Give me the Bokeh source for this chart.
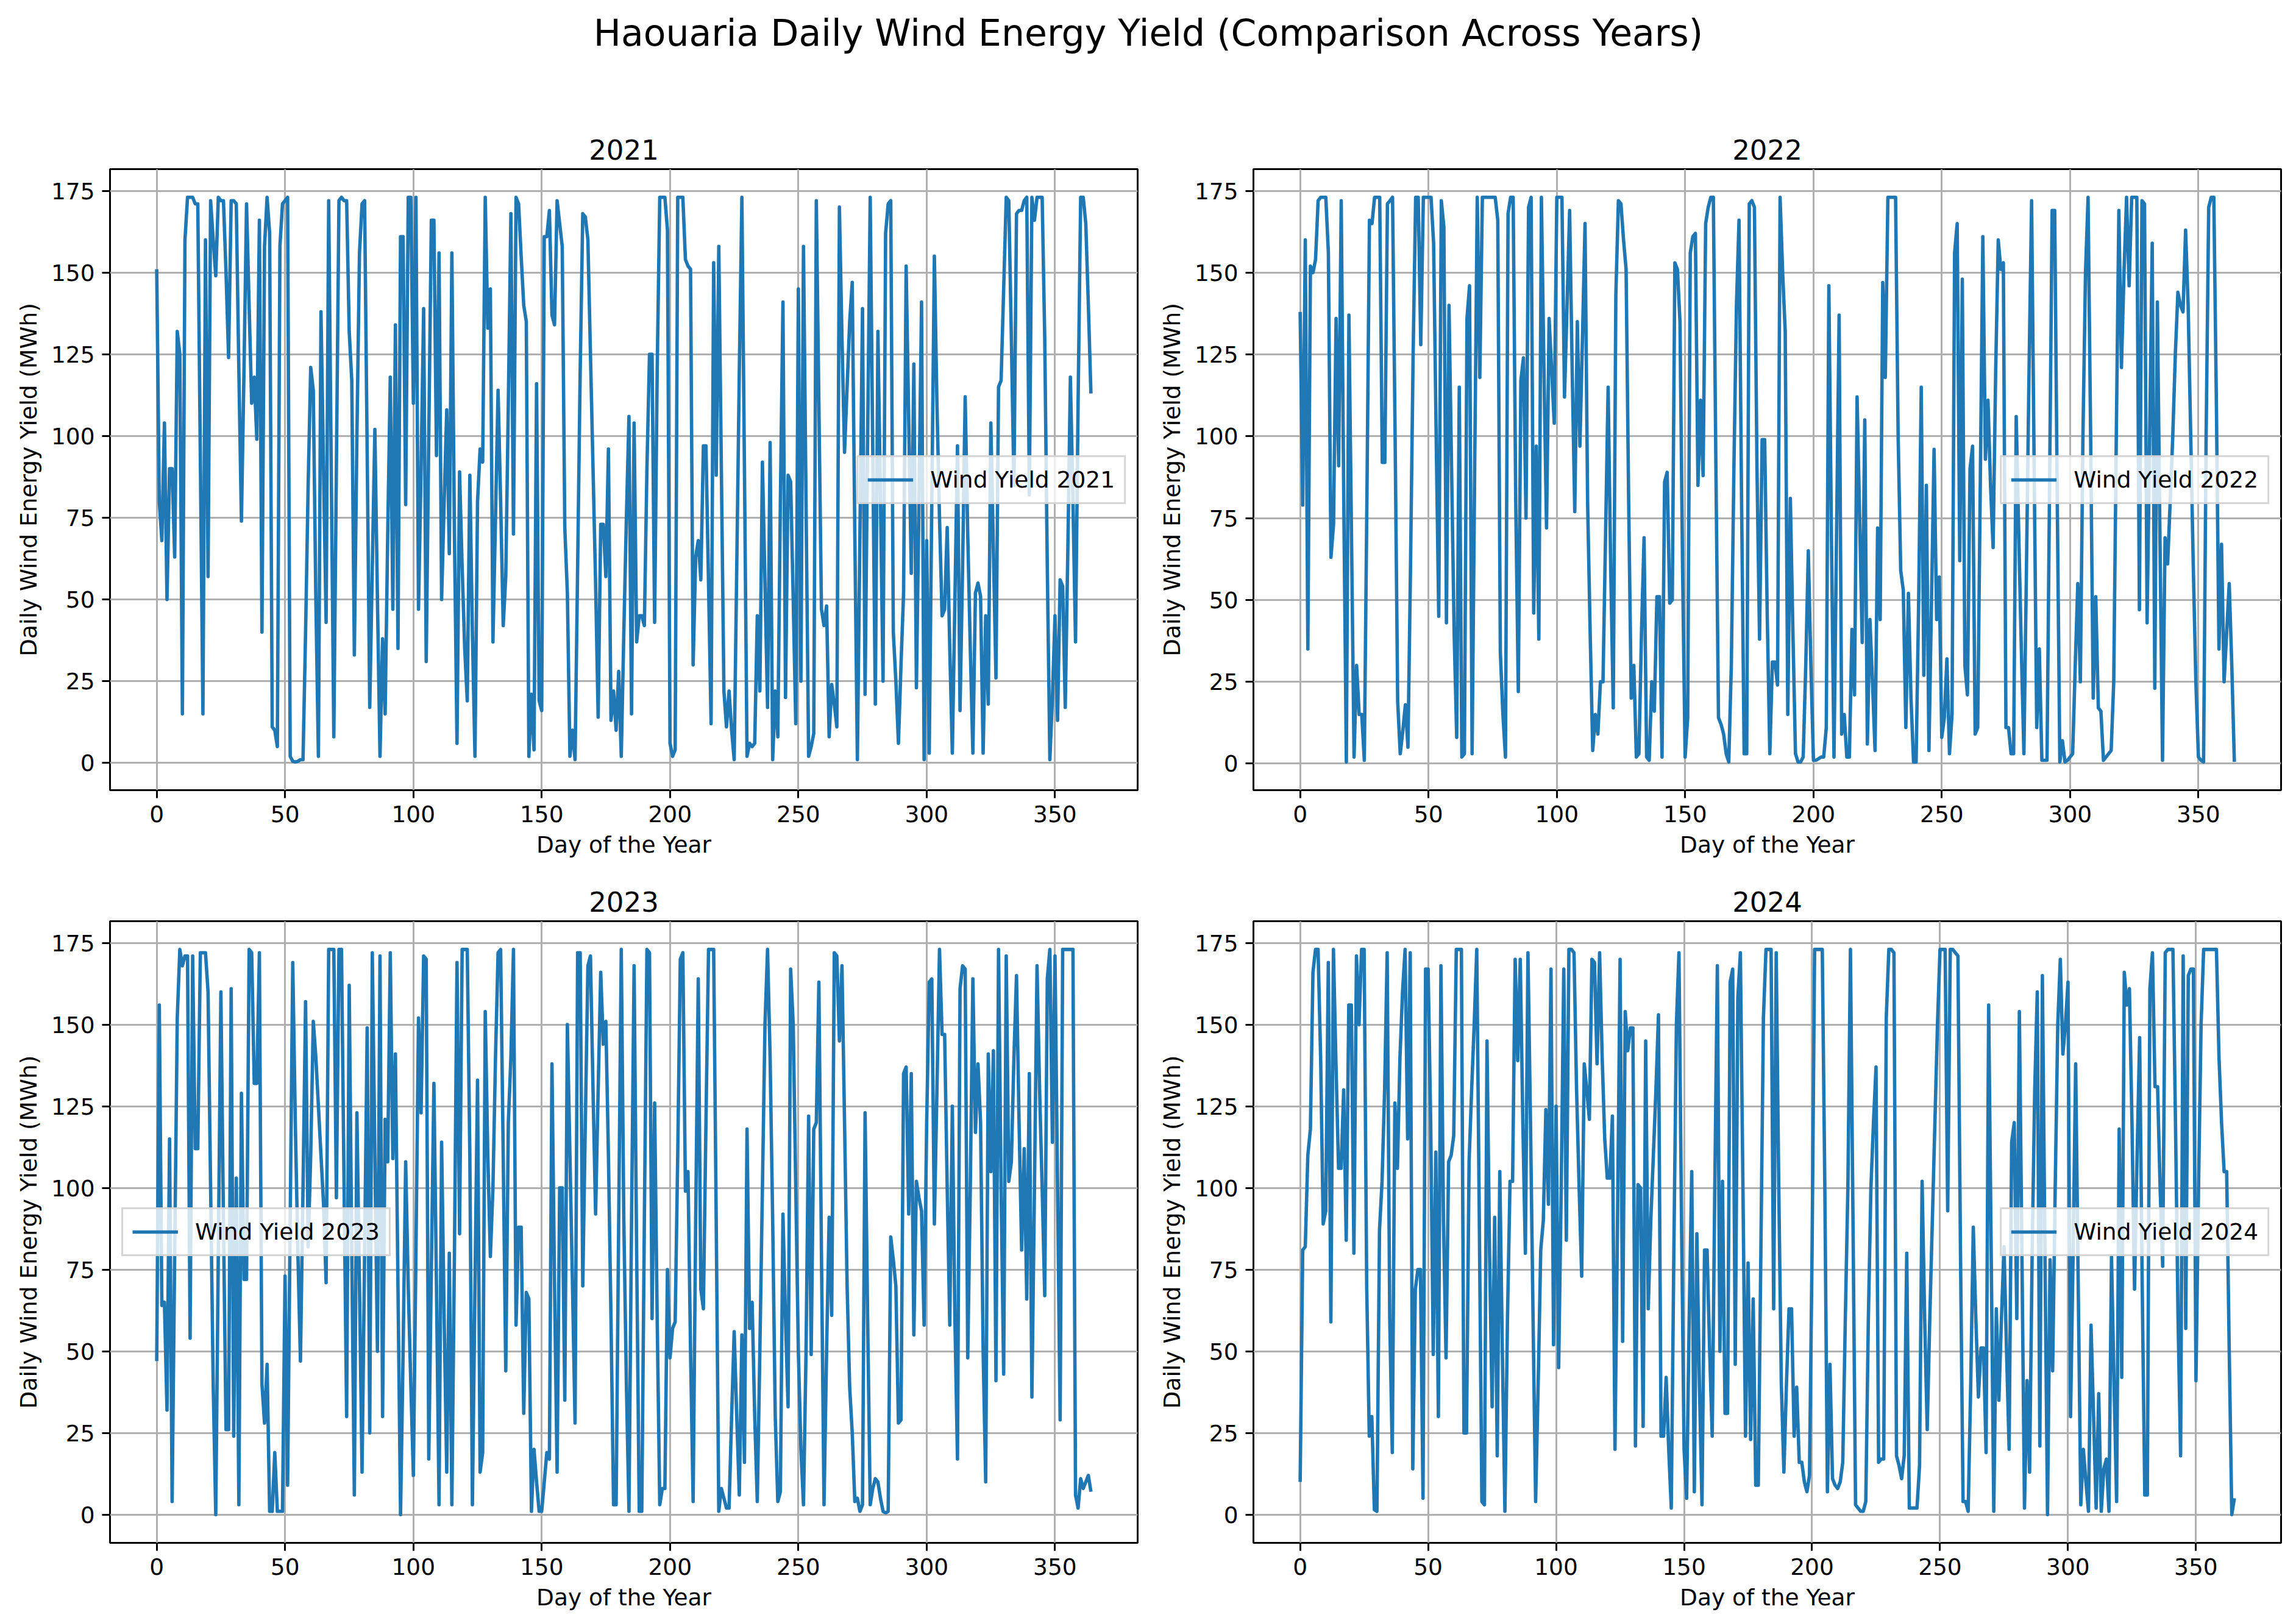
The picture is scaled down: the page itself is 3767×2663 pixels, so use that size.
from bokeh.plotting import figure
from bokeh.layouts import column, row
from bokeh.models import Range1d, FixedTicker, ColumnDataSource
from bokeh.core.properties import value
from bokeh.embed import file_html
from bokeh.resources import INLINE

FONT = "DejaVu Sans"
LINE_COLOR = "#1f77b4"
SUPTITLE = "Haouaria Daily Wind Energy Yield (Comparison Across Years)"
YEARS = [2021, 2022, 2023, 2024]
X_TICKS = [0, 50, 100, 150, 200, 250, 300, 350]
Y_TICKS = [0, 25, 50, 75, 100, 125, 150, 175]
X_LABEL = "Day of the Year"
Y_LABEL = "Daily Wind Energy Yield (MWh)"

y2021 = [
    151, 80, 68, 104, 50, 90, 90, 63, 132, 125,
    15, 160, 173, 173, 173, 171, 171, 93, 15, 160,
    57, 172, 160, 149, 173, 172, 172, 150, 124, 172,
    172, 171, 120, 74, 120, 171, 140, 110, 118, 99,
    166, 40, 158, 173, 162, 11, 10, 5, 158, 171,
    172, 173, 2, 0.5, 0.3, 0.5, 1, 1, 40, 85,
    121, 114, 50, 2, 138, 90, 43, 172, 90, 8,
    90, 172, 173, 172, 172, 132, 117, 33, 100, 156,
    171, 172, 95, 17, 60, 102, 50, 2, 38, 15,
    70, 118, 47, 134, 35, 161, 161, 79, 173, 173,
    110, 173, 47, 90, 139, 31, 100, 166, 166, 94,
    156, 50, 80, 108, 64, 156, 70, 6, 89, 60,
    35, 19, 88, 40, 2, 80, 96, 92, 173, 133,
    145, 37, 75, 114, 80, 42, 57, 110, 168, 70,
    173, 171, 155, 140, 135, 2, 21, 4, 116, 19,
    16, 161, 161, 169, 137, 134, 172, 165, 158, 72,
    52, 2, 10, 1, 60, 120, 168, 167, 160, 125,
    90, 55, 14, 73, 73, 57, 96, 13, 22, 10,
    28, 2, 40, 75, 106, 15, 104, 37, 45, 45,
    42, 90, 125, 125, 43, 120, 173, 173, 173, 163,
    6, 2, 4, 173, 173, 173, 154, 152, 151, 30,
    63, 68, 56, 97, 97, 55, 12, 153, 88, 158,
    90, 22, 11, 22, 10, 1, 60, 120, 173, 90,
    2, 6, 5, 6, 45, 22, 92, 55, 17, 98,
    1, 22, 8, 80, 141, 20, 88, 86, 50, 12,
    145, 25, 158, 80, 2, 5, 9, 172, 110, 47,
    42, 48, 8, 24, 18, 11, 170, 130, 95, 115,
    135, 147, 70, 1, 70, 139, 21, 100, 173, 95,
    18, 132, 80, 25, 162, 171, 172, 40, 25, 6,
    30, 52, 152, 105, 58, 122, 23, 80, 141, 1,
    68, 3, 80, 155, 110, 75, 45, 47, 72, 35,
    3, 50, 97, 16, 60, 112, 70, 35, 3, 52,
    55, 51, 3, 45, 18, 104, 65, 26, 115, 117,
    145, 173, 172, 130, 85, 168, 169, 169, 172, 173,
    82, 173, 166, 173, 173, 173, 130, 60, 1, 20,
    45, 13, 56, 54, 17, 65, 118, 80, 37, 110,
    173, 173, 165, 140, 113,
]

y2022 = [
    138, 79, 160, 35, 152, 150, 154, 172, 173, 173,
    173, 156, 63, 73, 136, 91, 172, 80, 0.5, 137,
    70, 2, 30, 15, 15, 1, 80, 166, 165, 173,
    173, 173, 92, 92, 171, 172, 173, 100, 19, 3,
    10, 18, 5, 60, 124, 173, 173, 128, 173, 173,
    173, 173, 159, 100, 45, 172, 164, 43, 140, 90,
    40, 8, 115, 2, 3, 136, 146, 3, 90, 173,
    118, 173, 173, 173, 173, 173, 173, 166, 34, 15,
    2, 168, 173, 173, 80, 22, 117, 124, 75, 170,
    173, 46, 97, 38, 173, 120, 72, 136, 120, 104,
    173, 173, 173, 112, 140, 169, 120, 77, 135, 97,
    130, 165, 80, 40, 4, 15, 9, 25, 25, 70,
    115, 60, 17, 143, 172, 171, 160, 151, 80, 20,
    30, 2, 3, 40, 69, 2, 1, 25, 16, 51,
    51, 2, 86, 89, 49, 50, 153, 151, 135, 60,
    2, 14, 156, 161, 162, 85, 111, 88, 165, 170,
    173, 173, 90, 14, 12, 9, 3, 0.5, 30, 90,
    140, 166, 80, 3, 3, 171, 172, 170, 90, 38,
    99, 99, 45, 3, 31, 31, 24, 173, 150, 132,
    15, 81, 40, 3, 0.5, 0.5, 2, 30, 65, 30,
    1, 1, 1.5, 2, 2, 11, 146, 70, 2, 70,
    137, 9, 15, 2, 2, 41, 21, 112, 75, 37,
    105, 6, 44, 25, 4, 72, 44, 147, 118, 173,
    173, 173, 173, 100, 59, 53, 11, 52, 20, 0.5,
    0.5, 50, 115, 27, 85, 4, 50, 96, 44, 57,
    8, 14, 32, 3, 15, 156, 165, 62, 148, 30,
    21, 90, 97, 9, 11, 85, 161, 93, 111, 85,
    66, 120, 160, 151, 153, 11, 11, 3, 3, 106,
    70, 35, 3, 60, 120, 172, 90, 11, 35, 1,
    1, 1, 85, 169, 169, 80, 0.5, 7, 0.5, 1,
    2, 3, 30, 55, 25, 100, 150, 173, 100, 20,
    51, 17, 16, 1, 2, 3, 4, 25, 100, 169,
    121, 150, 173, 146, 173, 173, 173, 47, 172, 171,
    43, 100, 159, 23, 141, 70, 1, 69, 61, 80,
    100, 125, 144, 140, 138, 163, 140, 100, 60, 25,
    2, 1, 0.5, 100, 170, 173, 173, 110, 35, 67,
    25, 40, 55, 30, 0.5,
]

y2023 = [
    47, 156, 64, 65, 32, 115, 4, 80, 152, 173,
    168, 171, 171, 54, 171, 112, 112, 172, 172, 172,
    160, 100, 40, 0, 80, 160, 90, 26, 26, 161,
    24, 103, 3, 129, 72, 72, 173, 172, 132, 132,
    172, 40, 28, 46, 1, 1, 19, 1, 1, 1,
    73, 9, 90, 169, 120, 80, 47, 100, 157, 82,
    110, 151, 140, 125, 110, 95, 71, 173, 173, 173,
    97, 173, 173, 100, 30, 162, 80, 6, 123, 70,
    13, 80, 149, 25, 172, 110, 50, 171, 30, 121,
    108, 172, 109, 141, 70, 0, 50, 108, 70, 40,
    12, 80, 152, 123, 171, 170, 17, 75, 132, 70,
    3, 114, 60, 13, 80, 3, 80, 169, 86, 173,
    173, 173, 110, 3, 70, 133, 13, 19, 154, 110,
    79, 100, 140, 172, 173, 110, 44, 120, 140, 173,
    58, 88, 88, 31, 68, 66, 1, 20, 10, 1,
    1, 10, 19, 17, 138, 70, 13, 100, 100, 35,
    150, 110, 70, 28, 172, 172, 70, 120, 168, 171,
    130, 92, 130, 166, 144, 151, 110, 60, 3, 3,
    90, 173, 90, 40, 1, 90, 168, 80, 1, 1,
    90, 173, 172, 60, 126, 60, 3, 8, 8, 75,
    48, 57, 59, 110, 170, 172, 99, 105, 50, 4,
    90, 164, 69, 63, 120, 173, 173, 173, 90, 1,
    8, 5, 2, 2, 30, 56, 30, 6, 55, 16,
    118, 57, 65, 30, 4, 50, 100, 150, 173, 140,
    90, 30, 4, 7, 92, 60, 33, 167, 150, 100,
    50, 20, 3, 50, 122, 49, 118, 120, 163, 80,
    3, 50, 91, 61, 172, 171, 145, 168, 120, 70,
    39, 25, 4, 5, 1, 3, 123, 60, 3, 8,
    11, 10, 5, 1, 0.5, 1, 85, 78, 70, 28,
    29, 135, 137, 92, 135, 55, 102, 97, 93, 58,
    120, 163, 164, 89, 130, 173, 147, 147, 100, 58,
    125, 60, 17, 161, 168, 167, 48, 100, 164, 117,
    138, 120, 50, 10, 141, 105, 142, 41, 173, 100,
    43, 171, 102, 108, 140, 165, 120, 81, 112, 66,
    135, 36, 100, 168, 130, 100, 67, 164, 173, 114,
    171, 100, 29, 173, 173, 173, 173, 173, 6, 2,
    11, 8, 10, 12, 7,
]

y2024 = [
    10, 81, 82, 110, 118, 166, 173, 173, 140, 89,
    93, 169, 59, 173, 138, 106, 106, 130, 84, 156,
    156, 80, 171, 150, 173, 173, 70, 24, 30, 1.5,
    1, 87, 102, 130, 172, 60, 19, 126, 106, 140,
    160, 173, 115, 172, 14, 69, 75, 75, 5, 167,
    167, 120, 49, 111, 30, 168, 90, 48, 108, 110,
    116, 173, 173, 173, 25, 25, 108, 130, 150, 173,
    90, 4, 3, 145, 80, 33, 91, 18, 105, 50,
    1, 60, 102, 102, 170, 139, 170, 120, 80, 172,
    120, 60, 4, 40, 81, 90, 124, 95, 167, 52,
    125, 45, 100, 167, 84, 173, 173, 172, 130, 100,
    73, 138, 130, 121, 170, 169, 138, 172, 140, 115,
    103, 103, 122, 20, 90, 170, 53, 154, 142, 149,
    149, 21, 101, 100, 27, 145, 63, 90, 110, 130,
    153, 24, 24, 42, 20, 2, 80, 150, 172, 90,
    20, 5, 60, 105, 7, 86, 40, 3, 81, 81,
    50, 24, 100, 168, 50, 102, 31, 31, 163, 167,
    46, 158, 172, 100, 24, 77, 23, 66, 9, 9,
    80, 152, 173, 173, 173, 63, 172, 100, 40, 13,
    40, 63, 63, 24, 39, 16, 16, 10, 7, 12,
    80, 173, 173, 173, 173, 100, 7, 46, 11, 9,
    8, 10, 16, 60, 100, 173, 90, 3, 2, 1,
    1, 4, 60, 100, 120, 137, 16, 17, 17, 152,
    173, 173, 172, 18, 15, 11, 18, 80, 2, 2,
    2, 2, 15, 102, 60, 26, 60, 90, 120, 150,
    173, 173, 173, 93, 173, 173, 172, 171, 80, 4,
    4, 1, 40, 88, 60, 36, 51, 51, 19, 156,
    80, 1, 63, 35, 60, 82, 50, 20, 114, 120,
    60, 154, 80, 2, 41, 13, 80, 130, 160, 21,
    165, 80, 0, 78, 44, 100, 150, 170, 141, 150,
    163, 30, 80, 138, 70, 3, 20, 10, 1, 58,
    30, 2, 37, 1, 14, 17, 1, 79, 40, 4,
    118, 42, 166, 156, 161, 120, 69, 110, 146, 70,
    6, 6, 161, 172, 131, 131, 100, 76, 172, 173,
    173, 173, 120, 60, 18, 171, 57, 165, 167, 167,
    41, 100, 150, 173, 173, 173, 173, 173, 173, 140,
    120, 105, 105, 50, 0, 5,
]

SERIES = [y2021, y2022, y2023, y2024]
LEGEND_LOC = ["center_right", "center_right", "center_left", "center_right"]


def make_panel(year, vals, legend_loc, width, height, mbl, mbr, mbt, mbb):
    n = len(vals)
    days = list(range(n))
    xmax = n - 1
    xpad = 0.05 * xmax
    ymin, ymax = min(vals), max(vals)
    ypad = 0.05 * (ymax - ymin)
    p = figure(
        width=width, height=height, output_backend="svg", toolbar_location=None,
        x_range=Range1d(-xpad, xmax + xpad), y_range=Range1d(ymin - ypad, ymax + ypad),
        min_border_left=mbl, min_border_right=mbr, min_border_top=mbt, min_border_bottom=mbb,
        title=str(year),
    )
    p.background_fill_color = "white"
    p.border_fill_color = "white"
    p.outline_line_color = "black"
    p.outline_line_width = 3
    src = ColumnDataSource(data=dict(day=days, yld=vals))
    p.line(x="day", y="yld", source=src, line_color=LINE_COLOR, line_width=5.6,
           line_join="round", legend_label=f"Wind Yield {year}")

    p.title.text_font = FONT
    p.title.text_font_size = "45px"
    p.title.text_font_style = "normal"
    p.title.text_color = "black"
    p.title.align = "center"
    p.title.standoff = 32

    p.xaxis.ticker = FixedTicker(ticks=X_TICKS)
    p.yaxis.ticker = FixedTicker(ticks=Y_TICKS)
    p.xaxis.axis_label = X_LABEL
    p.yaxis.axis_label = Y_LABEL
    for ax in (p.xaxis[0], p.yaxis[0]):
        ax.axis_line_color = None
        ax.major_tick_line_color = "black"
        ax.major_tick_line_width = 3
        ax.major_tick_out = 13
        ax.major_tick_in = 0
        ax.minor_tick_line_color = None
        ax.major_label_text_font = FONT
        ax.major_label_text_font_size = "37.5px"
        ax.major_label_text_color = "black"
        ax.major_label_standoff = 12
        ax.axis_label_text_font = FONT
        ax.axis_label_text_font_size = "37.5px"
        ax.axis_label_text_font_style = "normal"
        ax.axis_label_text_color = "black"
        ax.axis_label_standoff = 12

    for g in (p.xgrid[0], p.ygrid[0]):
        g.grid_line_color = "#b0b0b0"
        g.grid_line_width = 3
        g.grid_line_alpha = 1.0

    lg = p.legend[0]
    lg.location = legend_loc
    lg.margin = 19
    lg.padding = 15
    lg.spacing = 0
    lg.label_standoff = 28
    lg.glyph_width = 75
    lg.glyph_height = 30
    lg.label_height = 30
    lg.label_text_font = FONT
    lg.label_text_font_size = "37.5px"
    lg.label_text_color = "black"
    lg.border_line_color = "#cccccc"
    lg.border_line_width = 3
    lg.border_line_alpha = 0.8
    lg.background_fill_color = "white"
    lg.background_fill_alpha = 0.8
    return p


HDR_W, HDR_H = 3759, 150
hdr = figure(width=HDR_W, height=HDR_H, output_backend="svg", toolbar_location=None,
             x_range=Range1d(0, HDR_W), y_range=Range1d(0, HDR_H), min_border=0,
             x_axis_location=None, y_axis_location=None)
hdr.grid.visible = False
hdr.outline_line_color = None
hdr.text(x=[1883.5], y=[HDR_H - 53], text=[SUPTITLE], text_font=value(FONT), text_font_size="60px",
         text_align="center", text_baseline="middle", text_color="black")

p1 = make_panel(YEARS[0], SERIES[0], LEGEND_LOC[0], 1885, 1276, 180, 19, 127, 130)
p2 = make_panel(YEARS[1], SERIES[1], LEGEND_LOC[1], 1874, 1276, 171, 17, 127, 130)
p3 = make_panel(YEARS[2], SERIES[2], LEGEND_LOC[2], 1885, 1229, 180, 19, 85, 124)
p4 = make_panel(YEARS[3], SERIES[3], LEGEND_LOC[3], 1874, 1229, 171, 17, 85, 124)

layout = column(hdr, row(p1, p2), row(p3, p4))
open("out.html", "w").write(file_html(layout, INLINE))
